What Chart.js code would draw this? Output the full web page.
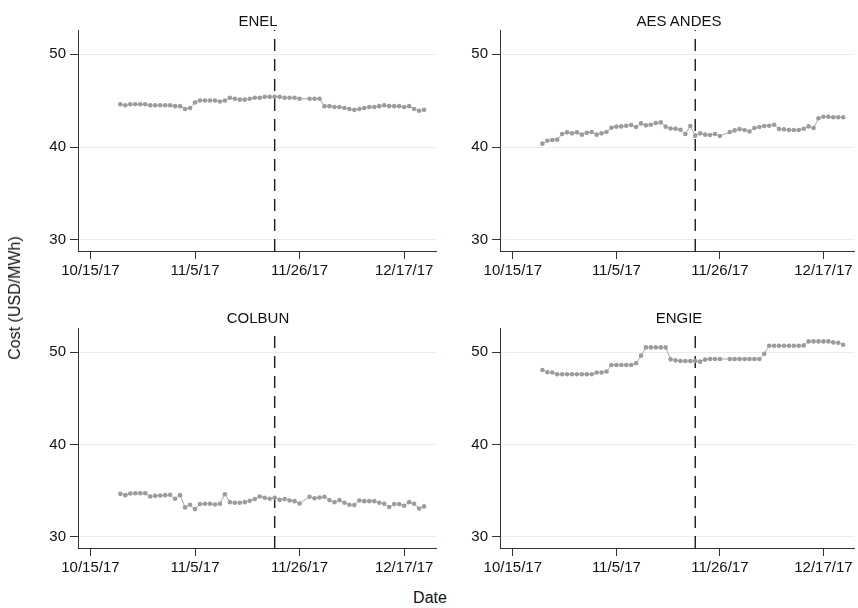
<!DOCTYPE html>
<html>
<head>
<meta charset="utf-8">
<script src="https://cdn.jsdelivr.net/npm/chart.js@4.4.1/dist/chart.umd.min.js"></script>
<style>
    body { margin: 0; background: #fff; }
    #wrap { position: relative; width: 858px; height: 608px; font-family: "Liberation Sans", Arial, Helvetica, sans-serif; color: #111; }
    #wrap canvas { position: absolute; }
    .ptitle { position: absolute; font-size: 15px; transform: translate(-50%, -50%); white-space: nowrap; }
    .axtitle { position: absolute; font-size: 16px; white-space: nowrap; }
</style>
</head>
<body>
<div id="wrap">
    <canvas id="c-enel" width="440" height="290" style="left:0;top:0"></canvas>
    <canvas id="c-aes" width="436" height="290" style="left:422px;top:0"></canvas>
    <canvas id="c-colbun" width="440" height="290" style="left:0;top:297px"></canvas>
    <canvas id="c-engie" width="436" height="290" style="left:422px;top:297px"></canvas>

    <div class="ptitle" style="left:258px;top:20px">ENEL</div>
    <div class="ptitle" style="left:679px;top:20px">AES ANDES</div>
    <div class="ptitle" style="left:258px;top:317px">COLBUN</div>
    <div class="ptitle" style="left:679px;top:317px">ENGIE</div>

    <div class="axtitle" style="left:15px;top:298px;transform:translate(-50%,-50%) rotate(-90deg)">Cost (USD/MWh)</div>
    <div class="axtitle" style="left:430px;top:598px;transform:translate(-50%,-50%)">Date</div>
</div>

<script>
// daily observations, 10/21/17 - 12/21/17 (11/27 missing)
var dates = [
    '10/21/17', '10/22/17', '10/23/17', '10/24/17', '10/25/17', '10/26/17', '10/27/17', '10/28/17', '10/29/17', '10/30/17', '10/31/17',
    '11/1/17', '11/2/17', '11/3/17', '11/4/17', '11/5/17', '11/6/17', '11/7/17', '11/8/17', '11/9/17', '11/10/17',
    '11/11/17', '11/12/17', '11/13/17', '11/14/17', '11/15/17', '11/16/17', '11/17/17', '11/18/17', '11/19/17', '11/20/17',
    '11/21/17', '11/22/17', '11/23/17', '11/24/17', '11/25/17', '11/26/17', '11/27/17', '11/28/17', '11/29/17', '11/30/17',
    '12/1/17', '12/2/17', '12/3/17', '12/4/17', '12/5/17', '12/6/17', '12/7/17', '12/8/17', '12/9/17', '12/10/17',
    '12/11/17', '12/12/17', '12/13/17', '12/14/17', '12/15/17', '12/16/17', '12/17/17', '12/18/17', '12/19/17', '12/20/17', '12/21/17'
];

var enel = [
    44.6, 44.5, 44.6, 44.6, 44.6, 44.6, 44.5, 44.5, 44.5, 44.5, 44.5,
    44.4, 44.4, 44.1, 44.2,
    44.8, 45.0, 45.0, 45.0, 45.0, 44.9, 45.0, 45.3, 45.2, 45.1, 45.1, 45.2, 45.3, 45.3, 45.4, 45.4,
    45.4, 45.4, 45.3, 45.3, 45.3, 45.2, null, 45.2, 45.2, 45.2,
    44.4, 44.4, 44.3, 44.3, 44.2, 44.1, 44.0, 44.1, 44.2, 44.3,
    44.3, 44.4, 44.5, 44.4, 44.4, 44.4, 44.3, 44.4, 44.1, 43.9, 44.0
];

var aesAndes = [
    40.36, 40.68, 40.75, 40.79, 41.40, 41.58, 41.47, 41.58, 41.33, 41.54,
    41.61, 41.33, 41.47, 41.61, 42.08, 42.19, 42.22, 42.29, 42.37, 42.15,
    42.54, 42.33, 42.40, 42.58, 42.65, 42.19, 42.00, 41.97, 41.86, 41.40,
    42.26, 41.22, 41.47, 41.33, 41.29, 41.40, 41.18, null, 41.61, 41.79,
    41.93, 41.83, 41.68, 42.04, 42.15, 42.26, 42.29, 42.40, 41.93, 41.90,
    41.83, 41.83, 41.83, 41.97, 42.22, 42.04, 43.10, 43.25, 43.25, 43.20, 43.20, 43.20
];

var colbun = [
    34.66, 34.52, 34.70, 34.73, 34.73, 34.73, 34.37, 34.44, 34.48, 34.52,
    34.55, 34.12, 34.52, 33.19, 33.48, 33.01, 33.55, 33.58, 33.58, 33.51,
    33.58, 34.62, 33.76, 33.69, 33.69, 33.76, 33.91, 34.09, 34.37, 34.23,
    34.12, 34.23, 34.01, 34.09, 33.94, 33.87, 33.62, null, 34.34, 34.19,
    34.27, 34.34, 33.98, 33.76, 33.98, 33.69, 33.48, 33.44, 33.94, 33.87,
    33.87, 33.87, 33.69, 33.58, 33.23, 33.55, 33.55, 33.37, 33.76, 33.58, 33.08, 33.30
];

var engie = [
    48.06, 47.81, 47.78, 47.60, 47.60, 47.60, 47.60, 47.60, 47.60, 47.60,
    47.60, 47.78, 47.78, 47.89, 48.60, 48.60, 48.60, 48.60, 48.60, 48.78,
    49.61, 50.50, 50.50, 50.50, 50.50, 50.50, 49.21, 49.10, 49.03, 49.03,
    49.03, 49.03, 48.96, 49.18, 49.25, 49.25, 49.25, null, 49.25, 49.25,
    49.25, 49.25, 49.25, 49.25, 49.25, 49.82, 50.68, 50.68, 50.68, 50.68,
    50.68, 50.68, 50.68, 50.72, 51.15, 51.15, 51.15, 51.15, 51.15, 51.04, 51.00, 50.79
];

var xTickLabels = ['10/15/17', '11/5/17', '11/26/17', '12/17/17'];
var yTickValues = [30, 40, 50];
var eventDate = '11/21/17';

var Y_MIN = 28.8, Y_MAX = 52.6;
var FONT = '"Liberation Sans", Arial, Helvetica, sans-serif';

// days since 10/15/17, so the x axis is a plain linear scale
function dayNum(s) {
    var p = s.split('/');
    var base = Date.UTC(2017, 9, 15);
    return Math.round((Date.UTC(2000 + (+p[2]), p[0] - 1, +p[1]) - base) / 86400000);
}

var xTickValues = xTickLabels.map(dayNum);

function makeChart(canvasId, values, padTop, padRight, xMin, xMax) {
    var points = dates.map(function (d, i) {
        return { x: dayNum(d), y: values[i] };
    });
    var ev = dayNum(eventDate);

    return new Chart(document.getElementById(canvasId), {
        type: 'line',
        data: {
            datasets: [{
                data: points,
                borderColor: '#a8a8a8',
                borderWidth: 1,
                pointRadius: 2.3,
                pointBackgroundColor: '#9c9c9c',
                pointBorderWidth: 0,
                spanGaps: true,
                tension: 0
            }, {
                data: [{ x: ev, y: Y_MIN }, { x: ev, y: Y_MAX }],
                borderColor: '#1a1a1a',
                borderWidth: 1.4,
                borderDash: [12, 8],
                pointRadius: 0
            }]
        },
        options: {
            responsive: false,
            animation: false,
            layout: { padding: { top: padTop, right: padRight, left: 0, bottom: 0 } },
            plugins: { legend: { display: false }, tooltip: { enabled: false } },
            scales: {
                x: {
                    type: 'linear',
                    min: xMin,
                    max: xMax,
                    afterBuildTicks: function (axis) {
                        axis.ticks = xTickValues.map(function (v) { return { value: v }; });
                    },
                    afterFit: function (axis) { axis.height = 39; },
                    ticks: {
                        autoSkip: false,
                        maxRotation: 0,
                        padding: 3,
                        color: '#111',
                        font: { family: FONT, size: 15 },
                        callback: function (v) { return xTickLabels[xTickValues.indexOf(v)]; }
                    },
                    grid: { drawOnChartArea: false, tickLength: 8, tickColor: '#333' },
                    border: { color: '#333', width: 1 }
                },
                y: {
                    min: Y_MIN,
                    max: Y_MAX,
                    afterBuildTicks: function (axis) {
                        axis.ticks = yTickValues.map(function (v) { return { value: v }; });
                    },
                    afterFit: function (axis) { axis.width = 78; },
                    ticks: {
                        padding: 4,
                        color: '#111',
                        font: { family: FONT, size: 15 }
                    },
                    grid: { color: '#e6eef0', lineWidth: 1, tickLength: 8, tickColor: '#333' },
                    border: { color: '#333', width: 1 }
                }
            }
        }
    });
}

makeChart('c-enel', enel, 30, 3, -2.5, 69.4);
makeChart('c-aes', aesAndes, 30, 1, -2.6, 69.2);
makeChart('c-colbun', colbun, 31, 3, -2.5, 69.4);
makeChart('c-engie', engie, 31, 1, -2.6, 69.2);
</script>
</body>
</html>
